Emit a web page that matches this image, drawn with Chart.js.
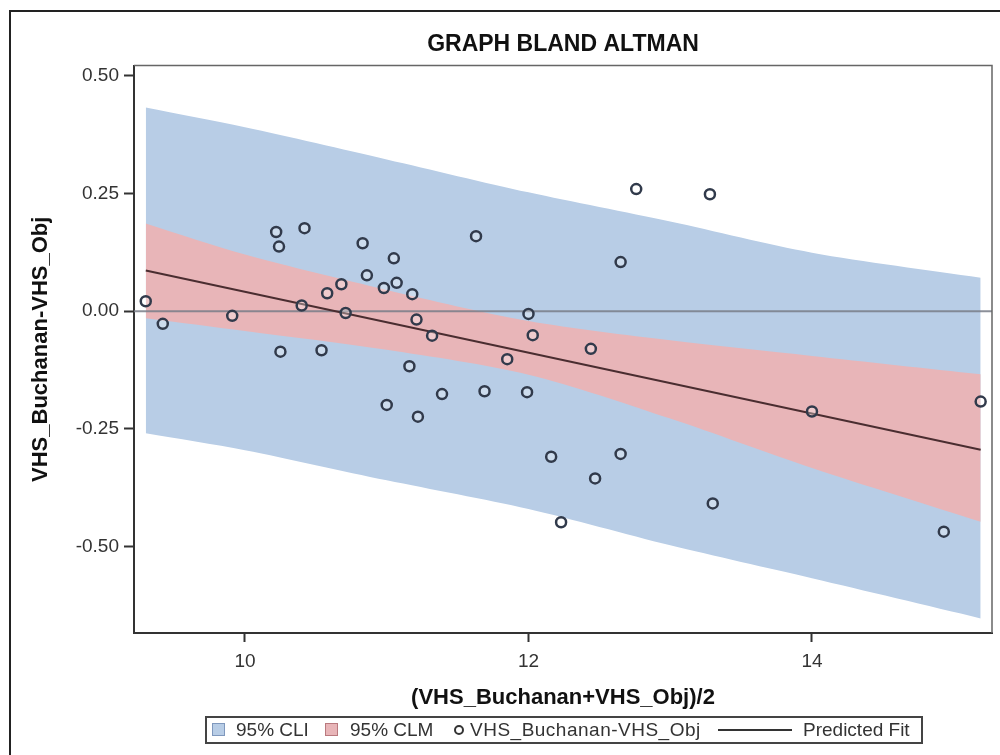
<!DOCTYPE html>
<html>
<head>
<meta charset="UTF-8">
<title>Graph Bland Altman</title>
<script src="https://cdn.jsdelivr.net/npm/chart.js"></script>
<style>
  html, body { margin: 0; padding: 0; background: #fff; }
  body { width: 1000px; height: 755px; position: relative; overflow: hidden; font-family: "Liberation Sans", Arial, sans-serif; }
  .frame { position: absolute; left: 9px; top: 10px; width: 1000px; height: 760px; border: 2px solid #222; }
  #chart { position: absolute; left: 0; top: 0; }
  .legend { position: absolute; left: 205px; top: 716px; width: 714px; height: 24px; border: 2px solid #444; font-size: 19px; color: #333; }
  .legend span { position: absolute; top: 2px; white-space: nowrap; line-height: 20px; }
  .legend .sw { top: 5px; width: 11px; height: 11px; }
  .legend .dot { top: 7px; width: 6px; height: 6px; border: 2px solid #333; border-radius: 50%; }
  .legend .ln { top: 11px; width: 74px; height: 0; border-top: 2px solid #333; }
</style>
</head>
<body>
  <div class="frame"></div>
  <canvas id="chart" width="1000" height="755"></canvas>
  <div class="legend">
    <span class="sw" style="left:5px; background:#b8cde6; border:1px solid #7f98bd;"></span>
    <span style="left:29px;">95% CLI</span>
    <span class="sw" style="left:118px; background:#e8b5b8; border:1px solid #b9797e;"></span>
    <span style="left:143px;">95% CLM</span>
    <span class="dot" style="left:247px;"></span>
    <span style="left:263px; letter-spacing:0.5px;">VHS_Buchanan-VHS_Obj</span>
    <span class="ln" style="left:511px;"></span>
    <span style="left:596px;">Predicted Fit</span>
  </div>

  <script>
    // observed differences vs. means
    const meanVals = [9.30, 9.42, 9.91, 10.22, 10.24, 10.42, 10.25, 10.40, 10.54, 10.58,
                      10.68, 10.71, 10.83, 10.86, 10.98, 11.05, 11.07, 11.18, 11.21, 11.32,
                      11.16, 11.00, 11.22, 11.39, 11.63, 12.65, 12.00, 12.03, 11.85, 12.44,
                      11.69, 11.99, 12.16, 12.65, 12.47, 12.23, 13.30, 12.76, 13.28, 14.00,
                      15.19, 14.93];
    const diffVals = [0.021, -0.027, -0.010, 0.168, 0.137, 0.176, -0.086, 0.012, -0.083, 0.038,
                      0.057, -0.004, 0.144, 0.076, 0.049, 0.112, 0.060, 0.036, -0.018, -0.052,
                      -0.117, -0.199, -0.224, -0.176, 0.159, 0.104, -0.006, -0.051, -0.102, -0.080,
                      -0.170, -0.172, -0.309, -0.303, -0.355, -0.448, -0.408, 0.259, 0.248, -0.213,
                      -0.192, -0.468];

    // band edges read at these x positions
    const bandX = [9.30, 10, 11, 12, 13, 14, 15.19];
    const cliUpper = [0.432, 0.390, 0.322, 0.252, 0.190, 0.124, 0.071];
    const cliLower = [-0.259, -0.295, -0.359, -0.420, -0.497, -0.567, -0.652];
    const clmUpper = [0.186, 0.120, 0.045, -0.021, -0.062, -0.095, -0.134];
    const clmLower = [-0.015, -0.042, -0.082, -0.135, -0.228, -0.333, -0.447];

    // predicted fit line
    const fitX = [9.30, 15.19];
    const fitY = [0.086, -0.294];

    // reference line at zero
    const refX = [9.217, 15.27];
    const refY = [0, 0];

    const xTicks = [10, 12, 14];
    const yTicks = [-0.50, -0.25, 0.00, 0.25, 0.50];

    const pts = (xs, ys) => xs.map((x, i) => ({ x: x, y: ys[i] }));

    const plotFrame = {
      id: 'plotFrame',
      afterDraw(chart) {
        const { ctx, chartArea: a } = chart;
        ctx.save();
        ctx.strokeStyle = '#666';
        ctx.lineWidth = 1.5;
        ctx.beginPath();
        ctx.moveTo(a.left, a.top);
        ctx.lineTo(a.right, a.top);
        ctx.lineTo(a.right, a.bottom);
        ctx.stroke();
        ctx.restore();
      }
    };

    const bandLine = { type: 'line', showLine: true, pointRadius: 0, borderWidth: 0, tension: 0.3 };

    new Chart(document.getElementById('chart').getContext('2d'), {
      type: 'scatter',
      data: {
        datasets: [
          Object.assign({ label: 'CLI lower', data: pts(bandX, cliLower), fill: false, order: 6, borderColor: 'rgba(0,0,0,0)' }, bandLine),
          Object.assign({ label: '95% CLI', data: pts(bandX, cliUpper), fill: 0, order: 5, borderColor: 'rgba(0,0,0,0)', backgroundColor: '#b8cde6' }, bandLine),
          Object.assign({ label: 'CLM lower', data: pts(bandX, clmLower), fill: false, order: 4, borderColor: 'rgba(0,0,0,0)' }, bandLine),
          Object.assign({ label: '95% CLM', data: pts(bandX, clmUpper), fill: 2, order: 3, borderColor: 'rgba(0,0,0,0)', backgroundColor: '#e8b5b8' }, bandLine),
          {
            type: 'line', label: 'zero', data: pts(refX, refY), order: 2,
            showLine: true, pointRadius: 0, borderColor: 'rgba(120,125,135,0.85)', borderWidth: 2, fill: false
          },
          {
            type: 'line', label: 'Predicted Fit', data: pts(fitX, fitY), order: 1,
            showLine: true, pointRadius: 0, borderColor: '#4a2d30', borderWidth: 2, fill: false
          },
          {
            label: 'VHS_Buchanan-VHS_Obj', data: pts(meanVals, diffVals), order: 0,
            pointRadius: 5, pointHoverRadius: 5, borderWidth: 2.5,
            borderColor: '#313a4b', backgroundColor: 'rgba(255,255,255,0.3)'
          }
        ]
      },
      options: {
        responsive: false,
        animation: false,
        devicePixelRatio: 1,
        layout: { padding: { left: 12, right: 8, top: 0, bottom: 40 } },
        plugins: {
          legend: { display: false },
          tooltip: { enabled: false },
          title: {
            display: true,
            fullSize: false,
            text: 'GRAPH BLAND ALTMAN',
            color: '#111',
            font: { family: 'Liberation Sans', size: 23, weight: 'bold' },
            padding: { top: 31, bottom: 7 }
          }
        },
        scales: {
          x: {
            type: 'linear',
            min: 9.217,
            max: 15.27,
            afterBuildTicks: s => { s.ticks = xTicks.map(v => ({ value: v })); },
            afterFit: s => { s.height = 82; },
            ticks: {
              color: '#333',
              font: { family: 'Liberation Sans', size: 19 },
              padding: 8,
              callback: v => String(v)
            },
            grid: { drawOnChartArea: false, drawTicks: true, tickLength: 9, tickWidth: 2, color: '#333' },
            border: { display: true, color: '#333', width: 2 },
            title: {
              display: true,
              text: '(VHS_Buchanan+VHS_Obj)/2',
              color: '#111',
              font: { family: 'Liberation Sans', size: 22, weight: 'bold' },
              padding: { top: 0, bottom: 4 }
            }
          },
          y: {
            min: -0.683,
            max: 0.521,
            afterBuildTicks: s => { s.ticks = yTicks.map(v => ({ value: v })); },
            afterFit: s => { s.width = 122; },
            ticks: {
              color: '#333',
              font: { family: 'Liberation Sans', size: 19 },
              padding: 5,
              callback: v => Number(v).toFixed(2)
            },
            grid: { drawOnChartArea: false, drawTicks: true, tickLength: 10, tickWidth: 2, color: '#333' },
            border: { display: true, color: '#333', width: 2 },
            title: {
              display: true,
              text: 'VHS_Buchanan-VHS_Obj',
              color: '#111',
              font: { family: 'Liberation Sans', size: 22, weight: 'bold' },
              padding: { top: 16, bottom: 0 }
            }
          }
        }
      },
      plugins: [plotFrame]
    });
  </script>
</body>
</html>
